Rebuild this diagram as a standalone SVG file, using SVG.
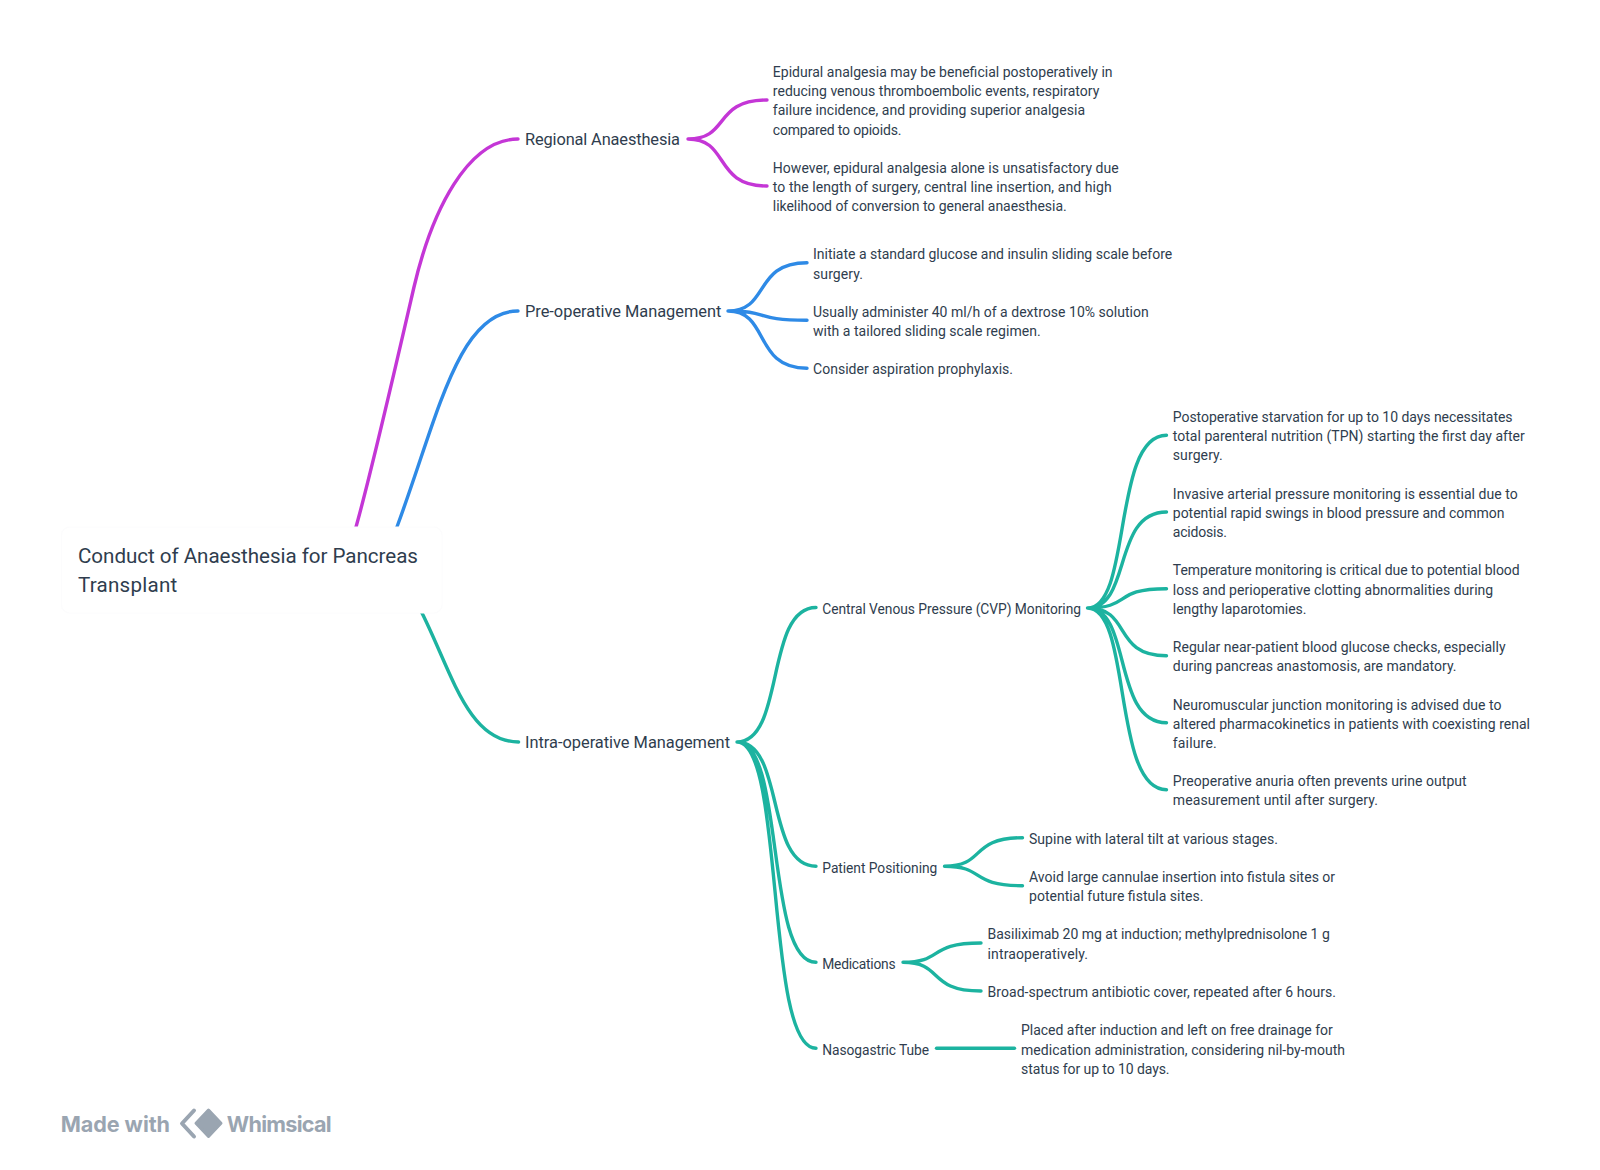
<svg xmlns="http://www.w3.org/2000/svg" width="1600" height="1170" viewBox="0 0 1600 1170">
<style>
text{font-family:Roboto,"Noto Sans",sans-serif;fill:#2f3d4e}
.t{font-size:20.6px}
.m{font-size:16.4px}
.l{font-size:13.8px}
.s{font-size:14px}
.mk{font-family:Inter,sans-serif;font-size:21.6px;font-weight:700;fill:#9aa5b1}
.c{fill:none;stroke-width:3.4;stroke-linecap:round;stroke-linejoin:round}
.p{stroke:#c436d6}
.b{stroke:#2e8ae6}
.g{stroke:#1cb3a0}
</style>
<rect width="1600" height="1170" fill="#fff"/>
<g id="connectors">
<path class="c p" d="M346.4,560L356,527C372,470 399,352 414,287C432,210 468,139 518,139"/>
<path class="c b" d="M380,570L397.3,526C438,416 458,311 518,311"/>
<path class="c g" d="M403,573L422,613C452,673 468,742 518.6,742"/>
<path class="c p" d="M688,139C730,139 713,100 767,100M688,139C730,139 713,186 767,186"/>
<path class="c b" d="M728,311C770,311 753,262.7 807,262.7M728,311C770,311 753,320.3 807,320.3M728,311C770,311 753,368.3 807,368.3"/>
<path class="c g" d="M737,742C785,742 765,607.5 816,607.5M737,742C785,742 765,866.3 816,866.3M737,742C785,742 765,962.3 816,962.3M737,742C785,742 765,1048.3 816,1048.3"/>
<path class="c g" d="M1087.5,608C1132,608 1112,435.3 1166.5,435.3M1087.5,608C1132,608 1112,512 1166.5,512M1087.5,608C1132,608 1112,588.7 1166.5,588.7M1087.5,608C1132,608 1112,655.7 1166.5,655.7M1087.5,608C1132,608 1112,722.7 1166.5,722.7M1087.5,608C1132,608 1112,789.7 1166.5,789.7"/>
<path class="c g" d="M944.5,866.3C986,866.3 969,837.7 1022.5,837.7M944.5,866.3C986,866.3 969,885.7 1022.5,885.7"/>
<path class="c g" d="M903,962.3C944,962.3 927,943 981,943M903,962.3C944,962.3 927,991 981,991"/>
<path class="c g" d="M936.5,1048.3H1014.5"/>
</g>
<g id="root"><rect x="61.5" y="527" width="380.5" height="86" rx="8" fill="#fff" stroke="#fcfcfd"/>
<text class="t" x="78" y="563.3" textLength="340">Conduct of Anaesthesia for Pancreas</text>
<text class="t" x="78" y="591.8" textLength="99.3">Transplant</text></g>
<g id="regional"><text class="m" x="525" y="144.5" textLength="155">Regional Anaesthesia</text></g>
<g id="regional-1"><text class="s" x="772.8" y="76.7" textLength="339.8">Epidural analgesia may be beneficial postoperatively in</text>
<text class="s" x="772.8" y="96" textLength="326.5">reducing venous thromboembolic events, respiratory</text>
<text class="s" x="772.8" y="115.3" textLength="312.2">failure incidence, and providing superior analgesia</text>
<text class="s" x="772.8" y="134.6" textLength="128.6">compared to opioids.</text></g>
<g id="regional-2"><text class="s" x="772.8" y="173" textLength="345.9">However, epidural analgesia alone is unsatisfactory due</text>
<text class="s" x="772.8" y="192.2" textLength="338.8">to the length of surgery, central line insertion, and high</text>
<text class="s" x="772.8" y="211.4" textLength="293.9">likelihood of conversion to general anaesthesia.</text></g>
<g id="preop"><text class="m" x="525" y="316.5" textLength="196.4">Pre-operative Management</text></g>
<g id="preop-1"><text class="s" x="813" y="259.3" textLength="359.2">Initiate a standard glucose and insulin sliding scale before</text>
<text class="s" x="813" y="278.6" textLength="50">surgery.</text></g>
<g id="preop-2"><text class="s" x="813" y="316.7" textLength="335.7">Usually administer 40 ml/h of a dextrose 10% solution</text>
<text class="s" x="813" y="336" textLength="227.6">with a tailored sliding scale regimen.</text></g>
<g id="preop-3"><text class="s" x="813" y="374" textLength="200">Consider aspiration prophylaxis.</text></g>
<g id="intraop"><text class="m" x="525" y="748" textLength="205">Intra-operative Management</text></g>
<g id="cvp"><text class="l" x="822.3" y="613.5" textLength="258.7">Central Venous Pressure (CVP) Monitoring</text></g>
<g id="cvp-1"><text class="s" x="1172.8" y="421.7" textLength="339.8">Postoperative starvation for up to 10 days necessitates</text>
<text class="s" x="1172.8" y="441" textLength="352">total parenteral nutrition (TPN) starting the first day after</text>
<text class="s" x="1172.8" y="460.3" textLength="50">surgery.</text></g>
<g id="cvp-2"><text class="s" x="1172.8" y="498.7" textLength="344.9">Invasive arterial pressure monitoring is essential due to</text>
<text class="s" x="1172.8" y="518" textLength="331.6">potential rapid swings in blood pressure and common</text>
<text class="s" x="1172.8" y="537.3" textLength="54.1">acidosis.</text></g>
<g id="cvp-3"><text class="s" x="1172.8" y="575.3" textLength="346.9">Temperature monitoring is critical due to potential blood</text>
<text class="s" x="1172.8" y="594.7" textLength="320.4">loss and perioperative clotting abnormalities during</text>
<text class="s" x="1172.8" y="614" textLength="133.7">lengthy laparotomies.</text></g>
<g id="cvp-4"><text class="s" x="1172.8" y="652" textLength="332.7">Regular near-patient blood glucose checks, especially</text>
<text class="s" x="1172.8" y="671.3" textLength="283.7">during pancreas anastomosis, are mandatory.</text></g>
<g id="cvp-5"><text class="s" x="1172.8" y="709.5" textLength="328.6">Neuromuscular junction monitoring is advised due to</text>
<text class="s" x="1172.8" y="728.7" textLength="357.1">altered pharmacokinetics in patients with coexisting renal</text>
<text class="s" x="1172.8" y="748" textLength="43.9">failure.</text></g>
<g id="cvp-6"><text class="s" x="1172.8" y="786" textLength="293.9">Preoperative anuria often prevents urine output</text>
<text class="s" x="1172.8" y="805.3" textLength="205.1">measurement until after surgery.</text></g>
<g id="positioning"><text class="l" x="822.3" y="872.5" textLength="115">Patient Positioning</text></g>
<g id="positioning-1"><text class="s" x="1029" y="843.7" textLength="249">Supine with lateral tilt at various stages.</text></g>
<g id="positioning-2"><text class="s" x="1029" y="882" textLength="306.1">Avoid large cannulae insertion into fistula sites or</text>
<text class="s" x="1029" y="901.3" textLength="174.5">potential future fistula sites.</text></g>
<g id="medications"><text class="l" x="822.3" y="968.5" textLength="73.2">Medications</text></g>
<g id="medications-1"><text class="s" x="987.5" y="939.3" textLength="342.3">Basiliximab 20 mg at induction; methylprednisolone 1 g</text>
<text class="s" x="987.5" y="958.7" textLength="100.5">intraoperatively.</text></g>
<g id="medications-2"><text class="s" x="987.5" y="997" textLength="348.5">Broad-spectrum antibiotic cover, repeated after 6 hours.</text></g>
<g id="nasogastric"><text class="l" x="822.3" y="1054.5" textLength="106.7">Nasogastric Tube</text></g>
<g id="nasogastric-1"><text class="s" x="1021" y="1035.3" textLength="311.7">Placed after induction and left on free drainage for</text>
<text class="s" x="1021" y="1054.7" textLength="324">medication administration, considering nil-by-mouth</text>
<text class="s" x="1021" y="1074" textLength="148.5">status for up to 10 days.</text></g>
<g id="watermark"><text class="mk" x="60.7" y="1131.7" textLength="109.3">Made with</text>
<path d="M194,1110.5L182,1123.5L194,1136.5" fill="none" stroke="#9aa5b1" stroke-width="4" stroke-linejoin="round" stroke-linecap="round"/>
<path d="M208.5,1110L221,1123.3L208.5,1136.5L196,1123.3Z" fill="#9aa5b1" stroke="#9aa5b1" stroke-width="3" stroke-linejoin="round"/>
<text class="mk" x="226.7" y="1131.7" textLength="105">Whimsical</text></g>
</svg>
